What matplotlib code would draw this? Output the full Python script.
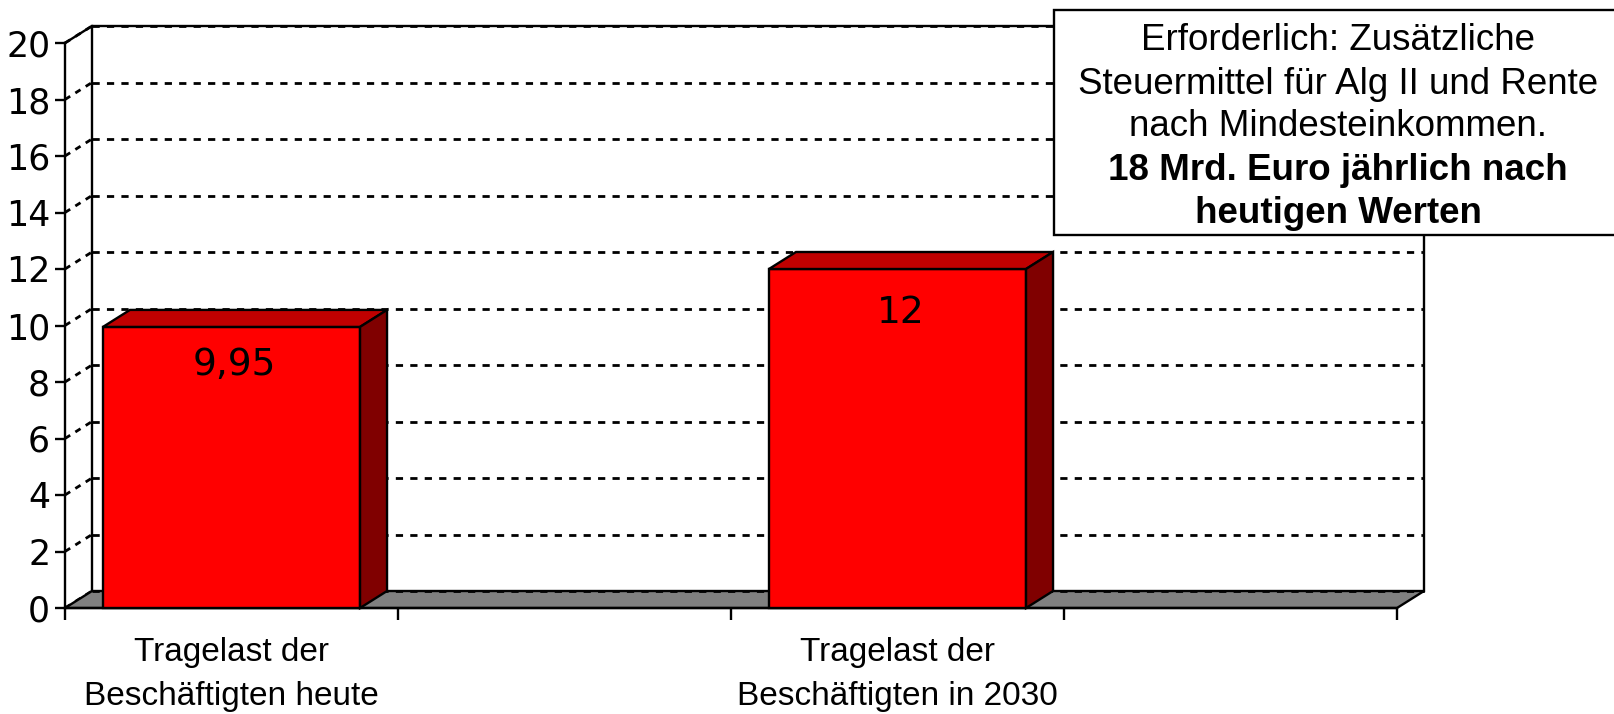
import matplotlib
matplotlib.use("Agg")
import matplotlib.pyplot as plt
from matplotlib import font_manager
from matplotlib.patches import Polygon, Rectangle
import numpy as np

# chart data
categories = ["Tragelast der\nBeschäftigten heute", "",
              "Tragelast der\nBeschäftigten in 2030", ""]
values = [9.95, np.nan, 12.0, np.nan]
value_labels = ["9,95", "", "12", ""]
y_ticks = [0, 2, 4, 6, 8, 10, 12, 14, 16, 18, 20]
note_lines = ["Erforderlich: Zusätzliche",
              "Steuermittel für Alg II und Rente",
              "nach Mindesteinkommen.",
              "18 Mrd. Euro jährlich nach",
              "heutigen Werten"]
note_bold = [False, False, False, True, True]


def pick_font(names):
    for n in names:
        try:
            font_manager.findfont(n, fallback_to_default=False)
            return n
        except Exception:
            pass
    return "DejaVu Sans"


num_font = pick_font(["DejaVu Sans Condensed", "DejaVu Sans"])
txt_font = pick_font(["Liberation Sans", "Arimo", "DejaVu Sans"])

W, H = 1615, 714
fig = plt.figure(figsize=(W / 100, H / 100), dpi=100)
fig.patch.set_facecolor("white")

# front plane of the 3d box in pixels
x0, x1, y0, y1 = 65, 1397, 608, 43
ax = fig.add_axes([x0 / W, (H - y0) / H, (x1 - x0) / W, (y0 - y1) / H])
ax.set_xlim(0, len(categories))
ax.set_ylim(0, 20)
ax.set_facecolor("none")

# depth offset (27 px right, 17 px up) in data units
ddx = 27 / ((x1 - x0) / len(categories))
ddy = 17 / ((y0 - y1) / 20)
n = len(categories)
lw = 1.7
glw = 2.0

# back wall + side wall gridlines
for v in y_ticks:
    ax.plot([ddx, n + ddx], [v + ddy, v + ddy], color="black", lw=glw,
            dashes=(2.6, 2.6), clip_on=False, zorder=2)
    ax.plot([0, ddx], [v, v + ddy], color="black", lw=glw,
            dashes=(2.2, 2.2), clip_on=False, zorder=2)
ax.plot([ddx, ddx], [ddy, 20 + ddy], color="black", lw=lw, clip_on=False, zorder=3)
ax.plot([n + ddx, n + ddx], [ddy, 20 + ddy], color="black", lw=lw, clip_on=False, zorder=3)
ax.plot([0, ddx, n + ddx], [20, 20 + ddy, 20 + ddy], color="black", lw=lw,
        clip_on=False, zorder=3)

# floor
floor = Polygon([(0, 0), (n, 0), (n + ddx, ddy), (ddx, ddy)], closed=True,
                facecolor="#808080", edgecolor="black", lw=lw, clip_on=False, zorder=3)
ax.add_patch(floor)
ax.plot([ddx, n + ddx], [ddy, ddy], color="black", lw=glw, dashes=(2.6, 2.6),
        clip_on=False, zorder=3)

# bars
bw = 0.772
for i, v in enumerate(values):
    if np.isnan(v):
        continue
    c = i + 0.5
    l, r = c - bw / 2, c + bw / 2
    ax.add_patch(Rectangle((l, 0), bw, v, facecolor="#FF0000", edgecolor="black",
                           lw=lw, clip_on=False, zorder=5))
    ax.add_patch(Polygon([(l, v), (r, v), (r + ddx, v + ddy), (l + ddx, v + ddy)],
                         closed=True, facecolor="#C00000", edgecolor="black",
                         lw=lw, clip_on=False, zorder=5))
    ax.add_patch(Polygon([(r, 0), (r + ddx, ddy), (r + ddx, v + ddy), (r, v)],
                         closed=True, facecolor="#800000", edgecolor="black",
                         lw=lw, clip_on=False, zorder=5))

label_drop = [38, 44]
k = 0
for i, v in enumerate(values):
    if np.isnan(v):
        continue
    ax.annotate(value_labels[i], (i + 0.5, v), xytext=(2, -label_drop[k] * 0.72),
                textcoords="offset points", ha="center", va="center",
                fontsize=27, family=num_font, zorder=6)
    k += 1

# axes, ticks
for s in ["top", "right"]:
    ax.spines[s].set_visible(False)
for s in ["left", "bottom"]:
    ax.spines[s].set_linewidth(lw)
    ax.spines[s].set_zorder(4)
ax.set_yticks(y_ticks)
ax.set_yticklabels([str(t) for t in y_ticks], fontsize=25, family=num_font)
ax.tick_params(axis="y", length=7.2, width=lw, pad=3.5)
ax.set_xticks(range(n + 1))
ax.set_xticklabels([])
ax.tick_params(axis="x", length=8.5, width=lw)
for i, cat in enumerate(categories):
    if cat:
        ax.annotate(cat, (i + 0.5, 0), xytext=(0, -29 * 0.72), textcoords="offset points",
                    ha="center", va="top", fontsize=24, family=txt_font,
                    linespacing=1.55)

# note box
bx0, by0, bx1, by1 = 1054, 10, 1625, 235
fig.patches.append(Rectangle((bx0 / W, 1 - by1 / H), (bx1 - bx0) / W, (by1 - by0) / H,
                             transform=fig.transFigure, facecolor="white",
                             edgecolor="black", lw=lw, zorder=10))
line_gap = 43
mid = 127
for j, line in enumerate(note_lines):
    yy = mid + (j - 2) * line_gap
    fig.text(1338 / W, 1 - yy / H, line, ha="center", va="center", fontsize=26.5,
             family=txt_font, fontweight="bold" if note_bold[j] else "normal",
             zorder=11)

fig.savefig("out.png", dpi=100)
